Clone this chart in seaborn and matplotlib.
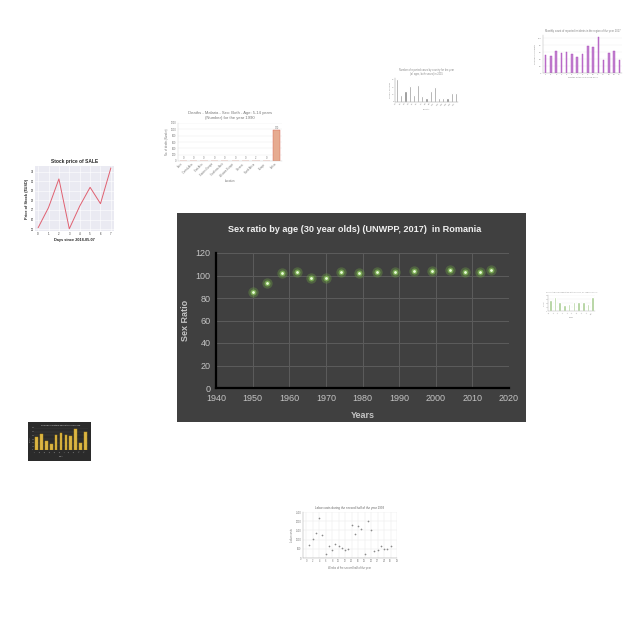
import matplotlib
matplotlib.use("Agg")
import matplotlib.pyplot as plt
import matplotlib.patches as mpatches
import seaborn as sns
import pandas as pd

sns.set_theme(style="white")
plt.rcParams["font.family"] = ["Liberation Sans", "DejaVu Sans"]

W = H = 640

# ── main chart data: sex ratio of 30 year olds in Romania ────────────────────
years = [1950, 1954, 1958, 1962, 1966, 1970, 1974, 1979, 1984, 1989,
         1994, 1999, 2004, 2008, 2012, 2015]
sex_ratio = [85.3, 92.9, 101.8, 103.5, 98.2, 97.4, 103.5, 102.4, 103.5, 103.5,
             104.4, 104.4, 104.7, 103.2, 103.5, 105.0]

# ── thumbnails data ──────────────────────────────────────────────────────────
stock_days = [0, 1, 2, 3, 4, 5, 6, 7]
stock_price = [25.14, 27.25, 30.25, 25.03, 27.4, 29.37, 27.66, 31.4]

malaria_locs = ["Asia", "Central Asia", "East Asia", "Eastern Europe",
                "Southeast Asia", "Western Europe", "Oceania", "North Africa",
                "Europe", "Africa"]
malaria_deaths = [0, 0, 0, 0, 0, 0, 0, 2, 0, 970]

grey_cats = [f"C{i}" for i in range(1, 16)]
grey_vals = [62, 18, 30, 42, 20, 45, 15, 10, 30, 40, 10, 12, 12, 25, 25]

purple_cats = [str(i) for i in range(1, 16)]
purple_vals = [52, 48, 65, 58, 60, 55, 45, 55, 78, 75, 105, 38, 58, 63, 38]

green_cats = [f"G{i}" for i in range(1, 11)]
green_vals = [28, 36, 23, 16, 18, 23, 23, 23, 18, 36]

yellow_cats = [f"Y{i}" for i in range(1, 12)]
yellow_vals = [35, 45, 25, 17, 40, 47, 40, 37, 57, 20, 50]

labor_weeks = list(range(1, 27))
labor_costs = [725, 1014, 1359, 2174, 1232, 217, 634, 453, 761, 634, 543, 417,
               507, 1775, 1304, 1721, 1558, 217, 1993, 1522, 380, 453, 652,
               471, 507, 634]


def box(x0, y0, x1, y1):
    # pixel box (top-left origin) -> figure fraction rect
    return [x0 / W, (H - y1) / H, (x1 - x0) / W, (y1 - y0) / H]


def panel(x0, y0, x1, y1, color):
    l, b, w, h = box(x0, y0, x1, y1)
    fig.patches.append(mpatches.Rectangle((l, b), w, h, transform=fig.transFigure,
                                          facecolor=color, edgecolor="none", zorder=-5))


fig = plt.figure(figsize=(6.4, 6.4), dpi=100)
fig.patch.set_facecolor("white")

# ── main chart ───────────────────────────────────────────────────────────────
BG = "#404040"
TXT = "#c4c4c4"
panel(177, 213, 526, 422, BG)
ax = fig.add_axes(box(216, 253, 509, 388))
ax.set_facecolor(BG)
df = pd.DataFrame({"Years": years, "Sex Ratio": sex_ratio})
sns.scatterplot(data=df, x="Years", y="Sex Ratio", ax=ax, s=55, color="#6a9a44",
                alpha=0.4, linewidth=0, zorder=3)
sns.scatterplot(data=df, x="Years", y="Sex Ratio", ax=ax, s=18, color="#86c057",
                alpha=0.7, linewidth=0, zorder=4)
sns.scatterplot(data=df, x="Years", y="Sex Ratio", ax=ax, s=4, color="#eaffd8",
                linewidth=0, zorder=5)
ax.set_xlim(1940, 2020)
ax.set_ylim(0, 120)
ax.set_xticks(range(1940, 2021, 10))
ax.set_yticks(range(0, 121, 20))
ax.grid(True, color="#5c5c5c", linewidth=0.7)
ax.set_axisbelow(True)
for s in ["top", "right"]:
    ax.spines[s].set_visible(False)
for s in ["left", "bottom"]:
    ax.spines[s].set_color("black")
    ax.spines[s].set_linewidth(1.6)
ax.tick_params(colors=TXT, labelsize=6.5, length=0, pad=4)
ax.set_xlabel("Years", color=TXT, fontsize=6.5, fontweight="bold", labelpad=6)
ax.set_ylabel("Sex Ratio", color=TXT, fontsize=6.5, fontweight="bold", labelpad=4)
fig.text(355 / W, (H - 229) / H, "Sex ratio by age (30 year olds) (UNWPP, 2017)  in Romania",
         ha="center", va="center", color="#f0f0f0", fontsize=6.6, fontweight="bold")

# ── thumbnail: stock price ───────────────────────────────────────────────────
a1 = fig.add_axes(box(35, 166, 114, 231))
a1.set_facecolor("#EAEAF2")
sns.lineplot(x=stock_days, y=stock_price, ax=a1, color="#e06070", linewidth=0.7)
a1.set_xlim(-0.3, 7.3)
a1.set_ylim(24.8, 31.6)
a1.set_yticks(range(25, 32))
a1.grid(True, color="white", linewidth=0.4)
for s in a1.spines.values():
    s.set_visible(False)
a1.tick_params(labelsize=2, length=0, pad=1)
a1.set_title("Stock price of SALE", fontsize=3.5, fontweight="bold", pad=2)
a1.set_xlabel("Days since 2018-05-07", fontsize=2.8, fontweight="bold", labelpad=1)
a1.set_ylabel("Price of Stock ($USD)", fontsize=2.8, fontweight="bold", labelpad=1)

# ── thumbnail: malaria deaths ────────────────────────────────────────────────
a2 = fig.add_axes(box(178, 123, 282, 161))
sns.barplot(x=malaria_locs, y=malaria_deaths, ax=a2, color="#f4a582",
            edgecolor="#d6604d", linewidth=0.3, width=0.7)
a2.set_ylim(0, 1200)
a2.set_yticks(range(0, 1201, 200))
a2.grid(True, axis="y", color="#e8e8e8", linewidth=0.3)
a2.set_axisbelow(True)
for s in ["top", "right"]:
    a2.spines[s].set_visible(False)
for s in ["left", "bottom"]:
    a2.spines[s].set_color("#cccccc")
    a2.spines[s].set_linewidth(0.3)
a2.tick_params(labelsize=1.8, length=0, pad=1, colors="#777777")
a2.set_xticks(range(len(malaria_locs)))
a2.set_xticklabels(malaria_locs, rotation=45, ha="right")
for i, v in enumerate(malaria_deaths):
    a2.text(i, v + 20, str(v), ha="center", va="bottom", fontsize=1.8, color="#777777")
a2.set_title("Deaths - Malaria - Sex: Both - Age: 5-14 years\n(Number) for the year 1990",
             fontsize=3, color="#777777", pad=3)
a2.set_xlabel("Location", fontsize=2, color="#777777", labelpad=1)
a2.set_ylabel("No. of deaths (Number)", fontsize=1.8, color="#777777", labelpad=1)

# ── thumbnail: grey bars ─────────────────────────────────────────────────────
a3 = fig.add_axes(box(395, 78, 458, 102))
sns.barplot(x=grey_cats, y=grey_vals, ax=a3, color="#8c8c8c", width=0.5)
a3.set_ylim(0, 65)
for s in ["top", "right"]:
    a3.spines[s].set_visible(False)
for s in ["left", "bottom"]:
    a3.spines[s].set_linewidth(0.3)
    a3.spines[s].set_color("#888888")
a3.tick_params(labelsize=1.5, length=0, pad=0.5, colors="#888888")
a3.set_xticks(range(len(grey_cats)))
a3.set_xticklabels(grey_cats, rotation=45, ha="right")
a3.set_title("Number of reported cases by country for the year\n(all ages, both sexes) in 2015",
             fontsize=1.8, color="#888888", pad=2)
a3.set_xlabel("Country", fontsize=1.5, color="#888888", labelpad=2)
a3.set_ylabel("Number of cases", fontsize=1.5, color="#888888", labelpad=0.5)

# ── thumbnail: purple bars ───────────────────────────────────────────────────
a4 = fig.add_axes(box(543, 35, 622, 73))
sns.barplot(x=purple_cats, y=purple_vals, ax=a4, color="#cc77dd", width=0.3,
            edgecolor="#aa44bb", linewidth=0.3)
a4.set_ylim(0, 110)
a4.grid(True, axis="y", color="#eeeeee", linewidth=0.3)
a4.set_axisbelow(True)
for s in ["top", "right"]:
    a4.spines[s].set_visible(False)
for s in ["left", "bottom"]:
    a4.spines[s].set_linewidth(0.3)
    a4.spines[s].set_color("#aaaaaa")
a4.tick_params(labelsize=1.6, length=0, pad=1, colors="#888888")
a4.set_title("Monthly count of reported incidents in the region of the year 2017",
             fontsize=1.9, color="#888888", pad=2)
a4.set_xlabel("Months of the year 2016-2017", fontsize=1.6, color="#888888", labelpad=1)
a4.set_ylabel("Number of incidents", fontsize=1.6, color="#888888", labelpad=1)

# ── thumbnail: green bars ────────────────────────────────────────────────────
a5 = fig.add_axes(box(548, 295, 595, 311))
sns.barplot(x=green_cats, y=green_vals, ax=a5, color="#a8d88a", width=0.55)
a5.set_ylim(0, 40)
a5.grid(True, axis="y", color="#eeeeee", linewidth=0.3)
a5.set_axisbelow(True)
for s in ["top", "right"]:
    a5.spines[s].set_visible(False)
for s in ["left", "bottom"]:
    a5.spines[s].set_linewidth(0.3)
    a5.spines[s].set_color("#aaaaaa")
a5.tick_params(labelsize=1.2, length=0, pad=0.5, colors="#999999")
a5.set_xticks(range(len(green_cats)))
a5.set_xticklabels(green_cats, rotation=45, ha="right")
a5.set_title("Percentage of population with access, by region (2010)",
             fontsize=1.5, color="#999999", pad=1.5)
a5.set_xlabel("Region", fontsize=1.2, color="#999999", labelpad=1.5)
a5.set_ylabel("Percent", fontsize=1.2, color="#999999", labelpad=0.5)

# ── thumbnail: yellow bars on dark ───────────────────────────────────────────
panel(28, 422, 91, 461, "#2b2b2b")
a6 = fig.add_axes(box(34, 428, 88, 450))
a6.set_facecolor("#2b2b2b")
sns.barplot(x=yellow_cats, y=yellow_vals, ax=a6, color="#f2c12e", width=0.55,
            edgecolor="#c89a10", linewidth=0.3)
a6.set_ylim(0, 60)
a6.grid(True, axis="y", color="#444444", linewidth=0.3)
a6.set_axisbelow(True)
for s in a6.spines.values():
    s.set_visible(False)
a6.tick_params(labelsize=1.2, length=0, pad=0.5, colors="#aaaaaa")
a6.set_xticks(range(len(yellow_cats)))
a6.set_xticklabels(yellow_cats, rotation=45, ha="right")
a6.set_title("Number of visitors during the year 2016", fontsize=1.6,
             color="#dddddd", pad=1.5)
a6.set_xlabel("Month", fontsize=1.2, color="#aaaaaa", labelpad=1.5)
a6.set_ylabel("Visitors", fontsize=1.2, color="#aaaaaa", labelpad=0.5)

# ── thumbnail: scatter of labor costs ────────────────────────────────────────
a7 = fig.add_axes(box(303, 512, 397, 558))
sns.scatterplot(x=labor_weeks, y=labor_costs, ax=a7, color="#8a8a8a", s=1.5,
                linewidth=0)
a7.set_xlim(-1, 28)
a7.set_ylim(0, 2500)
a7.set_xticks(range(0, 29, 2))
a7.set_yticks(range(0, 2501, 500))
a7.grid(True, color="#e6e6e6", linewidth=0.3)
a7.set_axisbelow(True)
for s in ["top", "right"]:
    a7.spines[s].set_visible(False)
for s in ["left", "bottom"]:
    a7.spines[s].set_linewidth(0.3)
    a7.spines[s].set_color("#999999")
a7.tick_params(labelsize=1.8, length=0, pad=1, colors="#777777")
a7.set_title("Labor costs during the second half of the year 1993",
             fontsize=2.2, color="#666666", pad=2)
a7.set_xlabel("Weeks of the second half of the year", fontsize=1.9, color="#777777",
              labelpad=2)
a7.set_ylabel("Labor costs", fontsize=1.9, color="#777777", labelpad=1)

fig.savefig("out.png", dpi=100, facecolor="white")
